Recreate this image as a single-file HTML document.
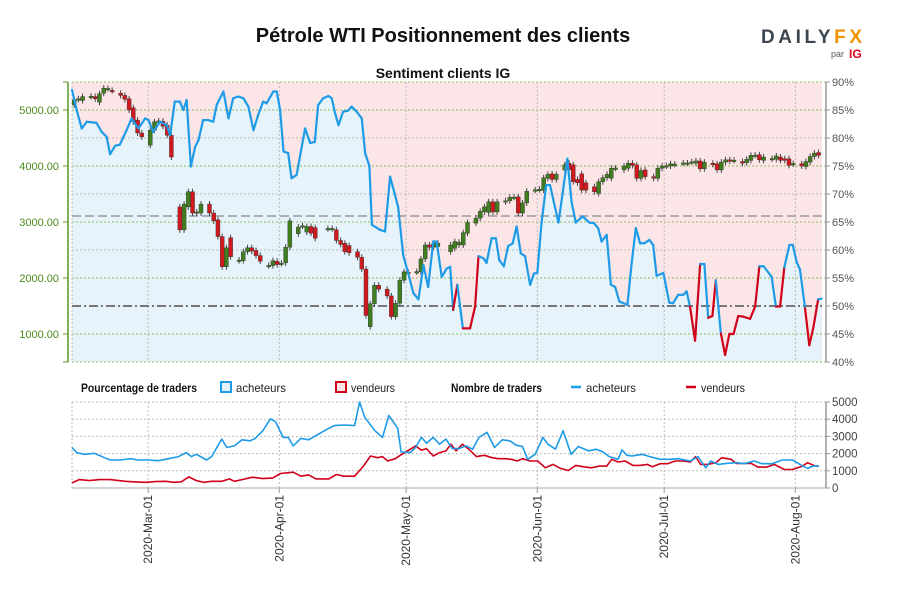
<!DOCTYPE html>
<html><head><meta charset="utf-8"><style>
body{margin:0;background:#fff;}
svg{display:block;font-family:"Liberation Sans",sans-serif;}
.n{font-family:"Liberation Sans Narrow","Liberation Sans",sans-serif;}
</style></head><body>
<svg id="c" width="900" height="600" viewBox="0 0 900 600">
<text x="443" y="42" text-anchor="middle" font-size="20" font-weight="bold" fill="#111">Pétrole WTI Positionnement des clients</text>
<g>
<text x="761" y="43" font-size="19" font-weight="bold" textLength="101" lengthAdjust="spacing" fill="#3e4652">DAILY<tspan fill="#f39200">FX</tspan></text>
<text x="831" y="57" font-size="9" fill="#555">par</text>
<text x="849" y="58" font-size="12" font-weight="bold" fill="#e2001a">IG</text>
</g>
<text x="443" y="78" text-anchor="middle" font-size="14" font-weight="bold" fill="#111">Sentiment clients IG</text>
<g id="main"></g>
<g id="legend" class="n" font-size="12">
<text x="81" y="392" font-weight="bold" fill="#111" textLength="116" lengthAdjust="spacingAndGlyphs">Pourcentage de traders</text>
<rect x="221" y="382" width="10" height="10" fill="#e6f3fb" stroke="#1e9be6" stroke-width="2"/>
<text x="236" y="392" fill="#222" textLength="50" lengthAdjust="spacingAndGlyphs">acheteurs</text>
<rect x="336" y="382" width="10" height="10" fill="#fbe5e6" stroke="#d0021b" stroke-width="2"/>
<text x="351" y="392" fill="#222" textLength="44" lengthAdjust="spacingAndGlyphs">vendeurs</text>
<text x="451" y="392" font-weight="bold" fill="#111" textLength="91" lengthAdjust="spacingAndGlyphs">Nombre de traders</text>
<line x1="571" y1="387" x2="581" y2="387" stroke="#1e9be6" stroke-width="2.5"/>
<text x="586" y="392" fill="#222" textLength="50" lengthAdjust="spacingAndGlyphs">acheteurs</text>
<line x1="686" y1="387" x2="696" y2="387" stroke="#d0021b" stroke-width="2.5"/>
<text x="701" y="392" fill="#222" textLength="44" lengthAdjust="spacingAndGlyphs">vendeurs</text>
</g>
<g id="bottom"></g>
</svg>
<script>
// ---- data ----
const monthTicks = ["2020-Mar-01","2020-Apr-01","2020-May-01","2020-Jun-01","2020-Jul-01","2020-Aug-01"];
const monthDays = [18,49,79,110,140,171]; // days since 2020-02-12
const priceTicks = [1000,2000,3000,4000,5000];
const pctTicks = [40,45,50,55,60,65,70,75,80,85,90];
const countTicks = [0,1000,2000,3000,4000,5000];
const refPrice = 3107;
const pctDays = [0,1.1,2.3,3.5,5.8,7.0,8.2,9.0,10.2,11.3,12.9,14.1,15.7,17.3,18.1,19.2,20.8,22.4,23.2,24.3,25.5,26.3,27.1,28.1,29.1,29.9,31.0,32.2,33.4,34.2,35.8,37.0,38.1,39.3,40.5,41.7,42.9,44.0,45.2,46.0,47.6,48.4,49.2,50.0,51.1,51.9,53.1,55.1,56.3,57.4,58.2,59.4,60.6,61.4,62.2,63.0,64.1,65.3,66.1,67.3,68.5,69.3,70.3,70.9,72.8,74.0,75.2,77.1,78.3,79.5,80.7,81.9,83.1,84.2,85.4,86.2,87.4,88.6,89.4,90.1,91.1,92.4,94.1,95.3,96.1,97.3,98.0,99.2,100.2,101.0,102.1,103.1,104.2,105.1,106.1,107.1,108.3,109.2,110.0,111.0,112.1,113.0,115.0,116.1,117.1,118.1,119.1,120.7,122.3,123.4,124.4,125.2,126.4,127.4,128.4,129.4,131.3,132.3,133.3,134.3,135.3,136.5,137.4,138.2,139.8,141.2,142.1,143.3,144.5,145.3,146.1,147.3,148.5,149.5,150.4,151.4,152.2,153.4,154.4,155.4,156.4,157.5,158.7,160.3,161.5,162.5,163.5,165.4,166.4,167.4,168.4,169.6,170.4,171.3,172.1,173.3,174.3,175.3,176.4,177.2];
const pctBuyers = [88.6,85,81.7,82.9,82.7,81.1,80.2,77.1,78.6,78.8,81.4,83.5,81.7,83.5,83.2,81.1,82.9,82.3,80.5,86.5,86.5,85,86.8,74.9,78.4,79.6,83.2,83.2,82.9,85.9,88.3,83.5,87.1,87.4,87.1,85.6,81.4,84.1,86.5,86.2,88.3,88.3,85,77.6,77.3,72.8,73.4,81.7,79.1,79.3,85.9,87.1,87.5,87.1,84.4,82.3,84.7,84.9,85.6,84.7,83.5,77.3,75,64.5,63.6,63.3,73.1,67.7,59.1,55.8,52.3,51.2,57.3,53.4,61.5,61.5,55.2,56.7,57.0,49.3,53.8,46,46,49.9,58.9,58.5,57.7,62.1,62.1,58.2,57.1,60.7,61.2,64.2,59.4,58.9,53.8,55.8,55.9,64.8,71.6,71.6,64.9,70.7,76.3,68.6,64.9,66,64.9,64.8,63.9,61.5,62.7,53.8,53.4,50.8,50.2,57.6,63.9,61.2,61.2,61.8,60.9,55.4,55.9,50.6,50.5,52,52,52.6,49.9,43.8,57.5,57.5,47.9,48.2,54.6,45.1,41.25,45,45,48.2,48.1,47.7,49.9,57.1,57.1,55.2,49.9,49.9,56.9,60.9,60.9,57.9,56.5,49.6,43,46.3,51.2,51.3];
const candleDays = [0,1,2,4,5,6,7,8,9,11,12,13,14,15,16,18,19,20,21,22,23,25,26,27,28,29,30,32,33,34,35,36,37,39,40,41,42,43,44,46,47,48,49,50,51,53,54,55,56,57,60,61,62,63,64,65,67,68,69,70,71,72,74,75,76,77,78,79,81,82,83,84,85,86,89,90,91,92,93,95,96,97,98,99,100,102,103,104,105,106,107,109,110,111,112,113,114,116,117,118,119,120,121,123,124,125,126,127,128,130,131,132,133,134,135,137,138,139,140,141,142,144,145,146,147,148,149,151,152,153,154,155,156,158,159,160,161,162,163,165,166,167,168,169,170,172,173,174,175,176];
const candleOpen = [5090,5190,5170,5240,5240,5140,5300,5380,5350,5300,5260,5200,5040,4820,4590,4370,4640,4800,4800,4730,4550,3270,2860,3270,3540,3160,3160,3320,3160,3040,2740,2200,2720,2310,2310,2470,2540,2490,2400,2220,2220,2300,2260,2270,2550,2790,2930,2820,2920,2900,2880,2880,2860,2670,2620,2580,2470,2370,2160,1130,1540,1870,1800,1680,1310,1550,1960,2100,2110,2110,2340,2590,2550,2560,2470,2530,2590,2590,2800,2980,3070,3180,3170,3360,3180,3360,3380,3440,3450,3160,3340,3570,3580,3570,3780,3860,3760,3930,4050,4020,3760,3860,3700,3630,3510,3720,3790,3780,3960,3930,3960,4050,4020,3780,3930,3810,3780,3960,4000,4000,4030,4050,4050,4070,4050,4090,3950,4050,4040,3930,4070,4110,4100,4080,4060,4100,4190,4200,4100,4130,4120,4160,4130,4130,4040,4040,3990,4070,4170,4240];
const candleClose = [5180,5200,5240,5245,5200,5290,5390,5385,5345,5260,5190,5000,4790,4590,4520,4640,4790,4805,4710,4550,4160,2860,3320,3540,3160,3180,3320,3160,3020,2740,2200,2540,2380,2320,2470,2540,2480,2400,2300,2225,2310,2240,2265,2550,3020,2910,2935,2920,2800,2710,2885,2885,2670,2600,2470,2450,2370,2160,1330,1540,1870,1800,1680,1310,1550,1960,2110,2105,2115,2340,2590,2550,2620,2620,2590,2650,2640,2810,2990,3070,3190,3270,3360,3180,3360,3380,3440,3445,3160,3340,3550,3575,3585,3790,3850,3760,3850,4020,3930,3720,3700,3570,3570,3540,3720,3790,3850,3960,3965,4000,4050,4010,3780,3920,3810,3780,3960,4000,4005,4040,4035,4055,4055,4075,4090,3950,4070,4030,3930,4070,4110,4090,4105,4050,4120,4190,4195,4110,4160,4135,4180,4100,4100,4010,4045,4000,4080,4170,4230,4190];
const buyDays = [0,1.1,2.9,5.3,7.7,9.0,11.4,13.8,15.6,18.0,20.4,22.8,25.2,27.0,28.2,29.4,31.8,33.0,35.4,36.6,38.4,40.2,42.1,43.3,45.1,46.9,48.1,49.9,51.1,52.3,54.1,55.9,58.3,60.1,62.0,64.3,66.8,68.0,69.2,71.6,73.4,74.9,77.0,77.8,80.0,81.2,82.6,83.8,85.4,86.9,88.4,89.9,91.4,93.2,94.7,96.2,98.1,99.9,101.7,103.5,105.0,106.5,107.7,109.5,111.3,112.5,114.3,116.1,118.0,119.7,122.1,123.9,125.5,127.0,129.1,130.0,131.2,132.4,134.8,136.6,139.0,141.4,143.2,146.2,148.0,149.8,151.0,152.8,154.7,157.1,158.9,161.3,163.1,165.5,167.9,170.3,172.1,173.9,175.1,176.6];
const buyCount = [2352,2058,1960,2019,1764,1627,1627,1705,1627,1627,1588,1705,1823,2058,1823,1960,1627,1823,2842,2352,2450,2803,2744,2881,3332,4018,3861,2940,2940,2450,2881,2803,3136,3391,3626,3665,3626,4998,4116,3332,2940,4214,3469,2097,2058,2352,2940,2607,2940,2548,2842,2293,2293,2450,2254,2940,3234,2352,2803,2744,2489,2411,1666,1960,2940,2548,2254,3332,1960,2411,2156,2254,2097,1823,1666,2215,1901,1862,1960,1823,1666,1666,1705,1568,1823,1176,1568,1372,1431,1470,1411,1568,1411,1411,1627,1627,1372,1137,1274,1274];
const sellDays = [0,1.7,4.1,6.5,9.0,12.6,15.0,17.4,19.8,22.2,24.0,25.8,27.6,29.4,31.2,33.0,35.4,37.2,38.4,40.2,42.7,45.1,47.5,49.3,52.3,54.1,55.9,57.7,60.7,62.5,64.3,66.8,68.9,70.6,72.2,73.4,74.6,76.4,77.6,80.0,81.2,82.6,83.8,85.4,86.9,88.4,89.6,90.8,92.3,93.8,95.6,97.5,99.3,100.7,102.3,103.8,105.3,106.5,108.3,110.1,111.9,113.7,115.5,117.3,119.1,121.0,122.8,124.6,126.4,127.6,129.1,130.8,132.6,134.2,136.0,137.2,139.0,140.8,142.6,144.4,146.2,147.4,148.6,150.4,152.2,153.6,155.8,157.0,158.8,160.6,162.1,164.2,166.0,168.4,170.3,172.7,173.9,175.7,176.6];
const sellCount = [294,490,431,490,490,392,353,333,372,392,333,353,647,431,333,392,392,529,392,490,627,549,588,843,921,686,764,529,529,784,686,686,1274,1862,1764,1823,1568,1705,1901,2254,2450,2195,2293,1862,2058,2156,2548,2156,2548,2254,1823,1901,1764,1705,1705,1666,1568,1705,1568,1568,1176,1372,1137,1019,1313,1235,1176,1274,1274,1666,1509,1568,1313,1313,1372,1235,1411,1411,1568,1568,1509,1823,1372,1372,1470,1764,1666,1431,1431,1431,1215,1215,1372,1078,1078,1274,1470,1274,1274];

// ---- scales ----
const X0=72, X1=822, DPX=4.23;
const xs = d => X0 + d*DPX;
const yPct = p => 82 + (90-p)*5.6;
const yPrice = v => 334 - (v-1000)*0.056;
const yCnt = v => 488 - v*0.0172;
const NS="http://www.w3.org/2000/svg";
function mk(tag, attrs, parent){const e=document.createElementNS(NS,tag);for(const k in attrs)e.setAttribute(k,attrs[k]);parent.appendChild(e);return e;}
const main=document.getElementById('main');
const bot=document.getElementById('bottom');

const bg=mk('rect',{x:X0,y:82,width:X1-X0,height:280,fill:'#fbe5e6'},main);


let ad='M'+xs(pctDays[0])+' 362';
pctDays.forEach((d,i)=>{ad+=' L'+xs(d).toFixed(1)+' '+yPct(pctBuyers[i]).toFixed(1);});
ad+=' L'+xs(pctDays[pctDays.length-1]).toFixed(1)+' 362 Z';
const area=mk('path',{d:ad,fill:'#e6f3fb'},main);



pctTicks.forEach(p=>{
  if(p===50) return;
  const green = (p%10===5)||p===90||p===40;
  const g=mk('line',{x1:X0,x2:X1+4,y1:yPct(p),y2:yPct(p),stroke:green?'#8fbf5a':'#bbb','stroke-width':1,'stroke-dasharray':'2,2'},main);
  
  
});
monthDays.forEach((d,i)=>{
  const g=mk('line',{x1:xs(d),x2:xs(d),y1:82,y2:362,stroke:'#bbb','stroke-width':1,'stroke-dasharray':'2,2'},main);
  
  
});
mk('line',{x1:X0,x2:X0,y1:82,y2:362,stroke:'#bbb','stroke-dasharray':'2,2'},main);
const rl=mk('line',{x1:X0,x2:X1,y1:yPrice(refPrice),y2:yPrice(refPrice),stroke:'#999','stroke-width':1.5,'stroke-dasharray':'9,4'},main);


const fl=mk('line',{x1:X0,x2:X1,y1:yPct(50),y2:yPct(50),stroke:'#777','stroke-width':2,'stroke-dasharray':'9,3,2,3'},main);



candleDays.forEach((d,i)=>{
  const o=candleOpen[i], c=candleClose[i];
  const cx=xs(d+0.5);
  const up=c>=o;
  const yt=yPrice(Math.max(o,c)), yb=yPrice(Math.min(o,c));
  const w=mk('line',{x1:cx,x2:cx,y1:yt-3,y2:yb+3,stroke:'#444','stroke-width':1},main);
  
  
  const r=mk('rect',{x:cx-2,y:yt,width:4,height:Math.max(1.5,yb-yt),fill:up?'#3f7d1e':'#d0181f',stroke:'#333','stroke-width':0.4},main);
  
  
});

for(let i=0;i<pctDays.length-1;i++){
  const red=pctBuyers[i]<50;
  const s=mk('line',{x1:xs(pctDays[i]),y1:yPct(pctBuyers[i]),x2:xs(pctDays[i+1]),y2:yPct(pctBuyers[i+1]),stroke:red?'#d0021b':'#1e9be6','stroke-width':2.2,'stroke-linecap':'round'},main);
  
  
}

const la=mk('line',{x1:68,x2:68,y1:82,y2:362,stroke:'#5a9a2a','stroke-width':1.5},main);


[82,362].forEach(y=>mk('line',{x1:63,x2:68,y1:y,y2:y,stroke:'#5a9a2a'},main));
priceTicks.forEach(v=>{
  mk('line',{x1:63,x2:68,y1:yPrice(v),y2:yPrice(v),stroke:'#5a9a2a'},main);
  const t=mk('text',{x:59,y:yPrice(v)+4,'text-anchor':'end','font-size':11,fill:'#4b8a1c'},main);
  t.textContent=v.toFixed(2);
  
  
});
const ra=mk('line',{x1:826,x2:826,y1:82,y2:362,stroke:'#999','stroke-width':1.5},main);


pctTicks.forEach(p=>{
  mk('line',{x1:826,x2:830,y1:yPct(p),y2:yPct(p),stroke:'#999'},main);
  const t=mk('text',{x:832,y:yPct(p)+4,'font-size':11,fill:'#555'},main);
  t.textContent=p+'%';
  
  
});

countTicks.forEach(v=>{
  if(v>0){
    const g=mk('line',{x1:X0,x2:X1+4,y1:yCnt(v),y2:yCnt(v),stroke:'#bbb','stroke-dasharray':'2,2'},bot);
    
    
  }
  mk('line',{x1:826,x2:830,y1:yCnt(v),y2:yCnt(v),stroke:'#999'},bot);
  const t=mk('text',{x:832,y:yCnt(v)+4,'font-size':11.5,fill:'#444','class':'n'},bot);
  t.textContent=v;
  
  
});
mk('line',{x1:X0,x2:X0,y1:402,y2:488,stroke:'#bbb','stroke-dasharray':'2,2'},bot);
monthDays.forEach((d,i)=>{
  mk('line',{x1:xs(d),x2:xs(d),y1:402,y2:488,stroke:'#bbb','stroke-dasharray':'2,2'},bot);
  mk('line',{x1:xs(d),x2:xs(d),y1:488,y2:493,stroke:'#999'},bot);
  const t=mk('text',{x:0,y:0,'font-size':12,fill:'#333','text-anchor':'end','class':'n',transform:'translate('+(xs(d)+4)+',495) rotate(-90)'},bot);
  t.textContent=monthTicks[i];
  
  
});
const ba=mk('line',{x1:X0,x2:826,y1:488,y2:488,stroke:'#aaa','stroke-width':1},bot);


const bra=mk('line',{x1:826,x2:826,y1:402,y2:488,stroke:'#999','stroke-width':1.5},bot);


function poly(days,vals,color,name){
  const pts=days.map((d,i)=>xs(d).toFixed(1)+','+yCnt(vals[i]).toFixed(1)).join(' ');
  const p=mk('polyline',{points:pts,fill:'none',stroke:color,'stroke-width':1.6,'stroke-linejoin':'round'},bot);
  
  
}
poly(sellDays,sellCount,'#d0021b','sellers-count-line');
poly(buyDays,buyCount,'#1e9be6','buyers-count-line');
</script>
</body></html>
